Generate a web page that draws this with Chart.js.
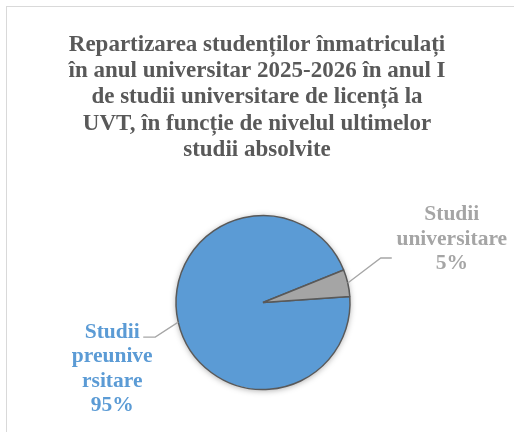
<!DOCTYPE html>
<html>
<head>
<meta charset="utf-8">
<script src="https://cdn.jsdelivr.net/npm/chart.js@4.4.1/dist/chart.umd.min.js"></script>
<style>
  html, body { margin: 0; padding: 0; background: #fff; }
  #wrap { position: relative; width: 514px; height: 432px; overflow: hidden; }
  #frame { position: absolute; left: 6px; top: 6px; width: 600px; height: 600px;
           border: 1.5px solid #d9d9d9; box-sizing: border-box; }
  canvas { position: absolute; left: 0; top: 0; }
</style>
</head>
<body>
<div id="wrap">
  <div id="frame"></div>
  <canvas id="chart1" width="514" height="432"></canvas>
</div>
<script>
// Datele graficului
const categorii = ["Studii preuniversitare", "Studii universitare"];
const etichete = [["Studii", "preunive", "rsitare"], ["Studii", "universitare"]];
const procente = [95, 5];
const culori = ["#5b9bd5", "#a5a5a5"];
const titlu = [
    "Repartizarea studenților înmatriculați",
    "în anul universitar 2025-2026 în anul I",
    "de studii universitare de licență la",
    "UVT, în funcție de nivelul ultimelor",
    "studii absolvite"
];

// pozitia etichetelor fata de marginea feliei (cot, capat linie, centru text)
const ghidaje = [
    { cot: [-23, 15], capat: [-35, 15], text: [-66, 47] },
    { cot: [33, -25], capat: [44, -25], text: [104, -44] }
];

// muta putin placinta spre dreapta fata de titlu
const deplasare = {
    id: "deplasare",
    afterLayout(chart) {
        chart.chartArea.left += 12;
        chart.chartArea.width = chart.chartArea.right - chart.chartArea.left;
    }
};

const umbra = {
    id: "umbra",
    beforeDatasetsDraw(chart) {
        const arc = chart.getDatasetMeta(0).data[0];
        if (!arc) return;
        const ctx = chart.ctx;
        ctx.save();
        ctx.shadowColor = "rgba(0,0,0,0.35)";
        ctx.shadowBlur = 6;
        ctx.shadowOffsetX = 0;
        ctx.shadowOffsetY = 1;
        ctx.beginPath();
        ctx.arc(arc.x, arc.y, arc.outerRadius, 0, Math.PI * 2);
        ctx.fillStyle = "#fff";
        ctx.fill();
        ctx.restore();
    }
};

const eticheteFelii = {
    id: "eticheteFelii",
    afterDatasetsDraw(chart) {
        const ctx = chart.ctx;
        const meta = chart.getDatasetMeta(0);
        meta.data.forEach(function (arc, i) {
            const unghi = (arc.startAngle + arc.endAngle) / 2;
            const x0 = arc.x + Math.cos(unghi) * arc.outerRadius;
            const y0 = arc.y + Math.sin(unghi) * arc.outerRadius;
            const g = ghidaje[i];

            ctx.save();
            ctx.strokeStyle = "#a6a6a6";
            ctx.lineWidth = 1.3;
            ctx.beginPath();
            ctx.moveTo(x0, y0);
            ctx.lineTo(x0 + g.cot[0], y0 + g.cot[1]);
            ctx.lineTo(x0 + g.capat[0], y0 + g.capat[1]);
            ctx.stroke();

            const linii = etichete[i].concat([procente[i] + "%"]);
            ctx.fillStyle = culori[i];
            ctx.font = "bold 21.5px 'Liberation Serif', 'Times New Roman', serif";
            ctx.textAlign = "center";
            ctx.textBaseline = "middle";
            const h = 24.5;
            const cx = x0 + g.text[0];
            const cy = y0 + g.text[1];
            const start = cy - (linii.length - 1) * h / 2;
            linii.forEach(function (t, k) {
                ctx.fillText(t, cx, start + k * h);
            });
            ctx.restore();
        });
    }
};

new Chart("chart1", {
    type: "pie",
    data: {
        labels: categorii,
        datasets: [{
            data: procente,
            backgroundColor: culori,
            borderColor: "#595959",
            borderWidth: 1.5
        }]
    },
    options: {
        responsive: false,
        animation: false,
        rotation: 86,
        radius: 87,
        layout: { padding: { left: 0, right: 0, top: 32, bottom: 2 } },
        plugins: {
            legend: { display: false },
            tooltip: { enabled: false },
            title: {
                display: true,
                text: titlu,
                color: "#595959",
                font: { family: "'Liberation Serif', 'Times New Roman', serif", size: 23, weight: "bold", lineHeight: 1.14 },
                padding: { top: 0, bottom: 12 }
            }
        }
    },
    plugins: [deplasare, umbra, eticheteFelii]
});
</script>
</body>
</html>
